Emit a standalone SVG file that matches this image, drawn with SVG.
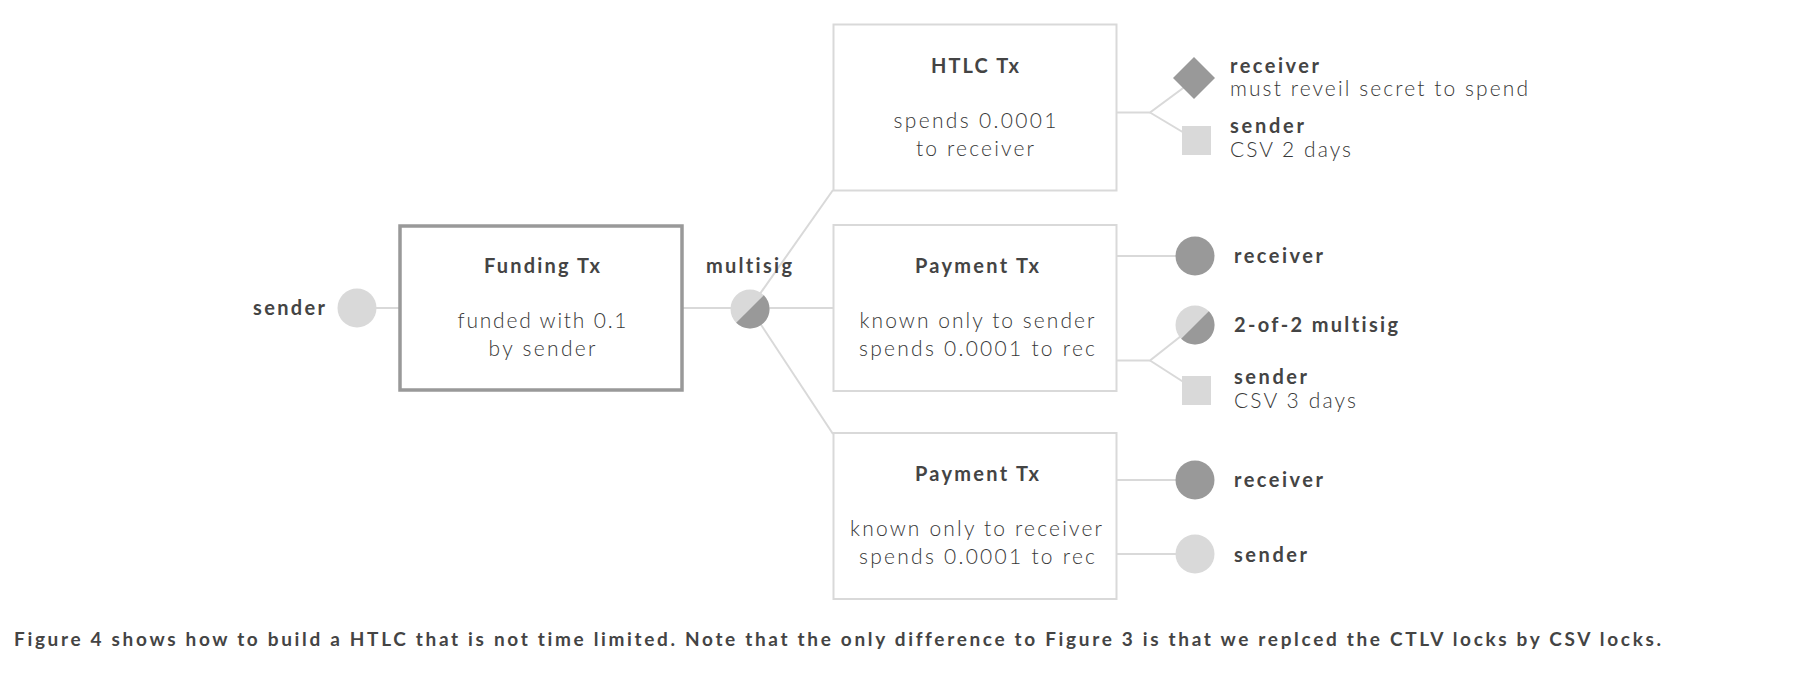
<svg xmlns="http://www.w3.org/2000/svg" width="1800" height="680" viewBox="0 0 1800 680">
<style>
.bg{fill:#fff}
.box{fill:#fff;stroke:#d9d9d9;stroke-width:2}
.fbox{fill:#fff;stroke:#999;stroke-width:3.5}
.conn{stroke:#d9d9d9;stroke-width:2;fill:none}
.dark{fill:#999}
.light{fill:#d9d9d9}
text{font-family:Lato,"Open Sans","Liberation Sans",sans-serif;fill:#444;font-variant-ligatures:none}
.t{font-size:20px;font-weight:700}
.b{font-size:21px;font-weight:300;fill:#383838}
.c{font-size:19px;font-weight:700}
.m{text-anchor:middle}
</style>
<rect class="bg" x="0" y="0" width="1800" height="680"/>
<g id="connectors">
<line class="conn" x1="357" y1="308" x2="399" y2="308"/>
<line class="conn" x1="682" y1="308" x2="750" y2="308"/>
<line class="conn" x1="750" y1="308" x2="833" y2="190"/>
<line class="conn" x1="750" y1="308" x2="833" y2="308"/>
<line class="conn" x1="750" y1="308" x2="833" y2="434"/>
<polyline class="conn" points="1117,112.5 1150,112.5 1194,80"/>
<polyline class="conn" points="1150,112.5 1196,140"/>
<line class="conn" x1="1117" y1="256" x2="1195" y2="256"/>
<polyline class="conn" points="1117,360.5 1150,360.5 1195,325"/>
<polyline class="conn" points="1150,360.5 1196,390"/>
<line class="conn" x1="1117" y1="480" x2="1195" y2="480"/>
<line class="conn" x1="1117" y1="554" x2="1195" y2="554"/>
</g>
<g id="sender">
<circle class="light" cx="357" cy="308" r="19.5"/>
<text class="t" x="325" y="315" text-anchor="end" textLength="72" lengthAdjust="spacing">sender</text>
</g>
<g id="funding">
<rect class="fbox" x="400" y="226" width="282" height="164"/>
<text class="t m" x="542" y="273" textLength="116" lengthAdjust="spacing">Funding Tx</text>
<text class="b m" x="542" y="328" textLength="169" lengthAdjust="spacing">funded with 0.1</text>
<text class="b m" x="542" y="356" textLength="107" lengthAdjust="spacing">by sender</text>
</g>
<g id="multisig">
<circle class="light" cx="750" cy="309" r="19.5"/>
<path class="dark" d="M763.8,295.2 A19.5,19.5 0 0 1 736.2,322.8 Z"/>
<text class="t m" x="749" y="273" textLength="86" lengthAdjust="spacing">multisig</text>
</g>
<g id="htlc">
<rect class="box" x="833.5" y="24.5" width="283" height="166"/>
<text class="t m" x="975" y="73" textLength="88" lengthAdjust="spacing">HTLC Tx</text>
<text class="b m" x="975" y="128" textLength="163" lengthAdjust="spacing">spends 0.0001</text>
<text class="b m" x="975" y="156" textLength="118" lengthAdjust="spacing">to receiver</text>
</g>
<g id="htlc-receiver">
<polygon class="dark" points="1194,57 1215,78 1194,99 1173,78"/>
<text class="t" x="1230" y="73" textLength="89" lengthAdjust="spacing">receiver</text>
<text class="b" x="1230" y="96" textLength="298" lengthAdjust="spacing">must reveil secret to spend</text>
</g>
<g id="htlc-sender">
<rect class="light" x="1182" y="126" width="29" height="29"/>
<text class="t" x="1230" y="133" textLength="74" lengthAdjust="spacing">sender</text>
<text class="b" x="1230" y="157" textLength="121" lengthAdjust="spacing">CSV 2 days</text>
</g>
<g id="payment1">
<rect class="box" x="833.5" y="225" width="283" height="166"/>
<text class="t m" x="977" y="273" textLength="124" lengthAdjust="spacing">Payment Tx</text>
<text class="b m" x="977" y="328" textLength="235" lengthAdjust="spacing">known only to sender</text>
<text class="b m" x="977" y="356" textLength="236" lengthAdjust="spacing">spends 0.0001 to rec</text>
</g>
<g id="p1-receiver">
<circle class="dark" cx="1195" cy="256" r="19.5"/>
<text class="t" x="1234" y="263" textLength="89" lengthAdjust="spacing">receiver</text>
</g>
<g id="p1-multisig">
<circle class="light" cx="1195" cy="325" r="19.5"/>
<path class="dark" d="M1208.8,311.2 A19.5,19.5 0 0 1 1181.2,338.8 Z"/>
<text class="t" x="1234" y="332" textLength="164" lengthAdjust="spacing">2-of-2 multisig</text>
</g>
<g id="p1-sender">
<rect class="light" x="1182" y="376" width="29" height="29"/>
<text class="t" x="1234" y="384" textLength="73" lengthAdjust="spacing">sender</text>
<text class="b" x="1234" y="408" textLength="122" lengthAdjust="spacing">CSV 3 days</text>
</g>
<g id="payment2">
<rect class="box" x="833.5" y="433" width="283" height="166"/>
<text class="t m" x="977" y="481" textLength="124" lengthAdjust="spacing">Payment Tx</text>
<text class="b m" x="976" y="536" textLength="252" lengthAdjust="spacing">known only to receiver</text>
<text class="b m" x="977" y="564" textLength="236" lengthAdjust="spacing">spends 0.0001 to rec</text>
</g>
<g id="p2-receiver">
<circle class="dark" cx="1195" cy="480" r="19.5"/>
<text class="t" x="1234" y="487" textLength="89" lengthAdjust="spacing">receiver</text>
</g>
<g id="p2-sender">
<circle class="light" cx="1195" cy="554" r="19.5"/>
<text class="t" x="1234" y="562" textLength="73" lengthAdjust="spacing">sender</text>
</g>
<text class="c" x="14" y="646" textLength="1647" lengthAdjust="spacing">Figure 4 shows how to build a HTLC that is not time limited. Note that the only difference to Figure 3 is that we replced the CTLV locks by CSV locks.</text>
</svg>
